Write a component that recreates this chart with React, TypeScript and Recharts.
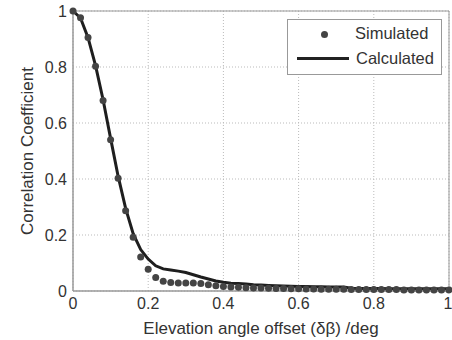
import { ComposedChart, Line, XAxis, YAxis, CartesianGrid, Legend, ReferenceArea } from "recharts";

const offsets = [
  0, 0.02, 0.04, 0.06, 0.08, 0.1, 0.12, 0.14, 0.16, 0.18, 0.2, 0.22, 0.24, 0.26, 0.28, 0.3, 0.32, 0.34, 0.36,
  0.38, 0.4, 0.42, 0.44, 0.46, 0.48, 0.5, 0.52, 0.54, 0.56, 0.58, 0.6, 0.62, 0.64, 0.66, 0.68, 0.7, 0.72, 0.74,
  0.76, 0.78, 0.8, 0.82, 0.84, 0.86, 0.88, 0.9, 0.92, 0.94, 0.96, 0.98, 1,
];

const simulated = [
  1.0, 0.976, 0.905, 0.803, 0.68, 0.54, 0.403, 0.287, 0.192, 0.121, 0.078, 0.048, 0.035, 0.03, 0.029, 0.029,
  0.029, 0.027, 0.022, 0.019, 0.016, 0.014, 0.013, 0.012, 0.011, 0.011, 0.01, 0.009, 0.009, 0.008, 0.008,
  0.007, 0.007, 0.006, 0.006, 0.006, 0.006, 0.005, 0.005, 0.005, 0.005, 0.005, 0.005, 0.005, 0.004, 0.004,
  0.004, 0.004, 0.004, 0.004, 0.004,
];

const calculated = [
  1.0, 0.975, 0.905, 0.805, 0.683, 0.545, 0.41, 0.295, 0.205, 0.148, 0.114, 0.09, 0.079, 0.075, 0.071, 0.066,
  0.058, 0.05, 0.043, 0.036, 0.031, 0.028, 0.027, 0.025, 0.022, 0.021, 0.02, 0.019, 0.018, 0.017, 0.016,
  0.016, 0.015, 0.015, 0.014, 0.014, 0.014, 0.01, 0.009, 0.009, 0.009, 0.009, 0.008, 0.008, 0.008, 0.008,
  0.008, 0.008, 0.008, 0.008, 0.008,
];

const ticks = [0, 0.2, 0.4, 0.6, 0.8, 1];

const data = offsets.map((x, i) => ({ x, sim: simulated[i], calc: calculated[i] }));

const font = "'Liberation Sans', Arial, sans-serif";

function LegendBox() {
  return (
    <div
      style={{
        position: "relative",
        width: 155,
        height: 56,
        boxSizing: "border-box",
        border: "1px solid #999",
        background: "#fff",
        fontFamily: font,
        fontSize: 16.5,
        color: "#333",
      }}
    >
      <div style={{ position: "absolute", left: 33, top: 11, width: 7, height: 7, borderRadius: "50%", background: "#444" }} />
      <div style={{ position: "absolute", left: 67, top: 4, lineHeight: "18px" }}>Simulated</div>
      <div style={{ position: "absolute", left: 9, top: 37, width: 52, height: 3, background: "#222" }} />
      <div style={{ position: "absolute", left: 68, top: 29, lineHeight: "18px" }}>Calculated</div>
    </div>
  );
}

export default function App() {
  return (
    <div style={{ position: "absolute", left: 0, top: 0 }}>
      <ComposedChart width={452} height={340} data={data} margin={{ top: 11, right: 3, left: 0, bottom: 0 }}>
        <CartesianGrid stroke="#bbb" strokeDasharray="1 2" />
        <XAxis
          dataKey="x"
          type="number"
          domain={[0, 1]}
          ticks={ticks}
          tickFormatter={(v) => String(v)}
          height={49}
          tickLine={false}
          tickSize={0}
          tickMargin={7}
          stroke="#999"
          tick={{ fill: "#333", fontSize: 16, fontFamily: font }}
          label={{
            value: "Elevation angle offset (δβ) /deg",
            position: "insideBottom",
            offset: 6,
            fill: "#333",
            fontSize: 17,
            fontFamily: font,
          }}
        />
        <YAxis
          type="number"
          domain={[0, 1]}
          ticks={ticks}
          tickFormatter={(v) => String(v)}
          width={73}
          tickLine={false}
          tickSize={0}
          tickMargin={6}
          stroke="#999"
          tick={{ fill: "#333", fontSize: 16, fontFamily: font }}
          label={{
            value: "Correlation Coefficient",
            angle: -90,
            position: "center",
            dx: -10,
            fill: "#333",
            fontSize: 17,
            fontFamily: font,
          }}
        />
        <ReferenceArea x1={0} x2={1} y1={0} y2={1} fill="none" stroke="#999" strokeWidth={1} />
        <Line
          dataKey="sim"
          name="Simulated"
          stroke="none"
          dot={{ r: 3.5, fill: "#444", stroke: "none" }}
          activeDot={false}
          isAnimationActive={false}
        />
        <Line
          dataKey="calc"
          name="Calculated"
          type="linear"
          stroke="#1e1e1e"
          strokeWidth={3}
          dot={false}
          activeDot={false}
          isAnimationActive={false}
        />
        <Legend
          layout="horizontal"
          verticalAlign="middle"
          align="center"
          content={() => <LegendBox />}
          wrapperStyle={{ position: "absolute", left: 287, top: 19, width: 155, height: 56 }}
        />
      </ComposedChart>
    </div>
  );
}
